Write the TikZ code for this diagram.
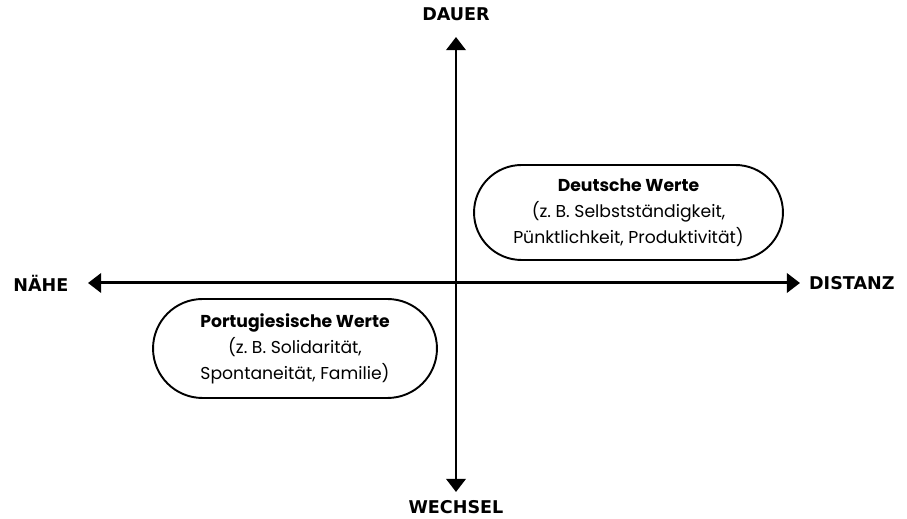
\documentclass[tikz,border=0pt]{standalone}
\usepackage{fontspec}
\setmainfont{Poppins}
\newfontfamily\axisfont{DejaVu Sans}
\usetikzlibrary{arrows.meta,positioning,shapes.misc}

\begin{document}
\begin{tikzpicture}[
  x=0.02cm, y=-0.02cm,
  axis/.style={line width=1.7pt, {Triangle[length=7.5pt,width=11pt]}-{Triangle[length=7.5pt,width=11pt]}},
  pole/.style={font=\axisfont\bfseries\fontsize{10}{12}\selectfont, inner sep=0pt},
  values/.style={draw, line width=1.1pt, rounded rectangle, align=center,
    font=\fontsize{9.8}{14.8}\selectfont, inner sep=0pt},
]
\useasboundingbox (0,0) rectangle (907,519);

\coordinate (o) at (456,283);
\coordinate (tipN) at (456,37);
\coordinate (tipS) at (456,492);
\coordinate (tipW) at (88,283);
\coordinate (tipE) at (800,283);

\draw[axis] (tipS) -- (tipN);
\draw[axis] (tipW) -- (tipE);

\node[pole, above=9pt of tipN] (dauer) {DAUER};
\node[pole, below=4.5pt of tipS] (wechsel) {WECHSEL};
\node[pole, left=11pt of tipW] (naehe) {NÄHE};
\node[pole, right=5pt of tipE] (distanz) {DISTANZ};

\node[values, minimum width=6.18cm, minimum height=1.9cm] (de) at (628.5,212.5)
  {\textbf{Deutsche Werte}\\(z.\ B. Selbstständigkeit,\\Pünktlichkeit, Produktivität)};
\node[values, minimum width=5.68cm, minimum height=1.98cm] (pt) at (295,348.5)
  {\textbf{Portugiesische Werte}\\(z.\ B. Solidarität,\\Spontaneität, Familie)};

\end{tikzpicture}
\end{document}
